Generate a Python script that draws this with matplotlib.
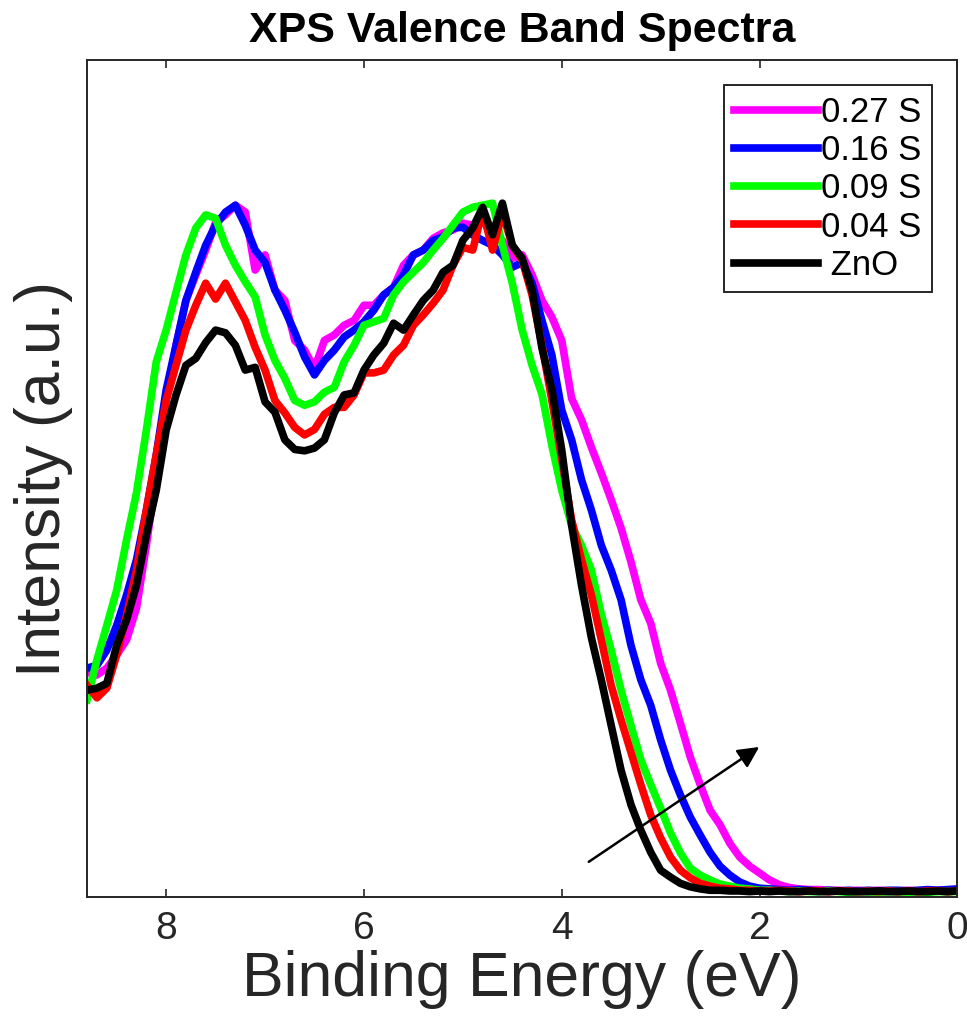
import numpy as np
import matplotlib
matplotlib.use("Agg")
import matplotlib.pyplot as plt

plt.rcParams['font.family'] = ['Liberation Sans', 'DejaVu Sans']

# Binding energy grid (eV), 8.8 -> 0.0 in 0.1 steps
energy = np.round(np.linspace(8.8, 0.0, 89), 2)

# Normalized intensities
s027 = [0.320, 0.316, 0.326, 0.345, 0.367, 0.413, 0.504, 0.606, 0.714,
        0.794, 0.859, 0.896, 0.932, 0.972, 0.983, 0.997, 0.987, 0.903, 0.925,
        0.874, 0.859, 0.801, 0.787, 0.760, 0.801, 0.809, 0.823, 0.830, 0.852,
        0.852, 0.867, 0.878, 0.910, 0.925, 0.932, 0.949, 0.957, 0.961, 0.971,
        0.968, 0.975, 0.954, 0.946, 0.920, 0.925, 0.896, 0.859, 0.835, 0.801,
        0.717, 0.686, 0.646, 0.609, 0.570, 0.529, 0.480, 0.425, 0.391, 0.333,
        0.294, 0.246, 0.197, 0.157, 0.120, 0.099, 0.072, 0.052, 0.039, 0.029,
        0.019, 0.012, 0.008, 0.006, 0.005, 0.005, 0.004, 0.004, 0.003, 0.004,
        0.003, 0.004, 0.003, 0.003, 0.004, 0.003, 0.003, 0.004, 0.004, 0.005]
s016 = [0.326, 0.330, 0.352, 0.388, 0.432, 0.483, 0.555, 0.635, 0.729,
        0.794, 0.859, 0.900, 0.939, 0.968, 0.987, 0.997, 0.968, 0.932, 0.914,
        0.874, 0.845, 0.813, 0.777, 0.751, 0.772, 0.787, 0.806, 0.816, 0.828,
        0.845, 0.867, 0.878, 0.896, 0.925, 0.932, 0.946, 0.951, 0.964, 0.965,
        0.954, 0.946, 0.939, 0.925, 0.907, 0.914, 0.884, 0.830, 0.780, 0.700,
        0.657, 0.599, 0.555, 0.504, 0.468, 0.425, 0.359, 0.309, 0.272, 0.222,
        0.178, 0.142, 0.110, 0.084, 0.059, 0.039, 0.026, 0.016, 0.010, 0.007,
        0.006, 0.005, 0.004, 0.005, 0.004, 0.003, 0.004, 0.003, 0.004, 0.003,
        0.004, 0.003, 0.004, 0.004, 0.003, 0.004, 0.005, 0.004, 0.005, 0.006]
s009 = [0.280, 0.338, 0.388, 0.439, 0.512, 0.580, 0.671, 0.770, 0.816,
        0.871, 0.925, 0.964, 0.983, 0.978, 0.939, 0.910, 0.886, 0.864, 0.809,
        0.772, 0.746, 0.714, 0.707, 0.712, 0.726, 0.733, 0.770, 0.794, 0.823,
        0.828, 0.833, 0.867, 0.886, 0.900, 0.914, 0.932, 0.949, 0.968, 0.987,
        0.994, 0.997, 1.000, 0.939, 0.884, 0.816, 0.765, 0.723, 0.649, 0.584,
        0.533, 0.504, 0.468, 0.404, 0.352, 0.294, 0.243, 0.193, 0.157, 0.123,
        0.087, 0.058, 0.036, 0.026, 0.019, 0.013, 0.010, 0.007, 0.006, 0.004,
        0.004, 0.003, 0.002, 0.003, 0.002, 0.002, 0.003, 0.002, 0.001, 0.002,
        0.002, 0.001, 0.002, 0.002, 0.001, 0.002, 0.001, 0.002, 0.002, 0.002]
s004 = [0.301, 0.283, 0.297, 0.345, 0.403, 0.468, 0.555, 0.635, 0.714,
        0.765, 0.816, 0.852, 0.884, 0.861, 0.884, 0.857, 0.830, 0.791, 0.758,
        0.714, 0.696, 0.675, 0.664, 0.672, 0.694, 0.704, 0.704, 0.722, 0.754,
        0.754, 0.758, 0.780, 0.794, 0.823, 0.838, 0.855, 0.874, 0.910, 0.936,
        0.932, 0.990, 0.932, 0.986, 0.939, 0.917, 0.867, 0.794, 0.714, 0.628,
        0.541, 0.483, 0.432, 0.367, 0.301, 0.251, 0.204, 0.157, 0.113, 0.080,
        0.052, 0.033, 0.022, 0.014, 0.010, 0.007, 0.006, 0.004, 0.004, 0.003,
        0.003, 0.004, 0.003, 0.002, 0.003, 0.003, 0.002, 0.003, 0.003, 0.002,
        0.003, 0.002, 0.003, 0.002, 0.003, 0.002, 0.003, 0.003, 0.002, 0.003]
zno = [0.294, 0.297, 0.304, 0.359, 0.396, 0.446, 0.519, 0.584, 0.671,
       0.722, 0.765, 0.775, 0.798, 0.816, 0.812, 0.794, 0.758, 0.762, 0.712,
       0.697, 0.657, 0.643, 0.641, 0.645, 0.657, 0.696, 0.722, 0.725, 0.758,
       0.780, 0.797, 0.826, 0.816, 0.838, 0.859, 0.874, 0.900, 0.910, 0.946,
       0.964, 0.994, 0.954, 1.000, 0.939, 0.920, 0.874, 0.790, 0.730, 0.642,
       0.533, 0.446, 0.370, 0.309, 0.243, 0.178, 0.128, 0.091, 0.059, 0.033,
       0.023, 0.014, 0.009, 0.006, 0.004, 0.004, 0.003, 0.003, 0.002, 0.003,
       0.002, 0.003, 0.002, 0.002, 0.003, 0.002, 0.002, 0.003, 0.002, 0.002,
       0.002, 0.003, 0.002, 0.002, 0.003, 0.002, 0.002, 0.003, 0.002, 0.003]

series = [s027, s016, s009, s004, zno]
labels = ['0.27 S', '0.16 S', '0.09 S', '0.04 S', ' ZnO']
colors = ['#ff00ff', '#0000ff', '#00ff00', '#ff0000', '#000000']

fig = plt.figure(figsize=(9.67, 10.23), dpi=100)
ax = fig.add_axes([0.090, 0.123, 0.900, 0.818])

for y, lab, c in zip(series, labels, colors):
    ax.plot(energy, y, color=c, lw=5.5, label=lab)

# arrow showing the band-edge shift
ax.annotate('', xy=(1.98, 0.214), xytext=(3.75, 0.043),
            arrowprops=dict(arrowstyle='-|>', color='black', lw=1.8,
                            mutation_scale=32))

ax.set_xlim(8.8, 0)
ax.set_ylim(-0.006, 1.207)
ax.set_xticks([8, 6, 4, 2, 0])
ax.set_yticks([])
ax.tick_params(axis='x', direction='in', top=True, length=6, width=1.2,
               labelsize=28, pad=10, colors='#262626')
for sp in ax.spines.values():
    sp.set_linewidth(1.4)
    sp.set_color('#262626')

ax.set_title('XPS Valence Band Spectra', fontsize=31, fontweight='bold', pad=13)
ax.set_xlabel('Binding Energy (eV)', fontsize=45, color='#262626', labelpad=2)
ax.set_ylabel('Intensity (a.u.)', fontsize=45, color='#262626', labelpad=10)

leg = ax.legend(loc='upper right', bbox_to_anchor=(0.971, 0.970), fontsize=25,
                handlelength=2.4, handletextpad=0.1, labelspacing=0.15,
                borderpad=0.3, borderaxespad=0, fancybox=False,
                framealpha=1, edgecolor='#262626')
leg.get_frame().set_linewidth(1.4)

fig.savefig('out.png', dpi=100)
